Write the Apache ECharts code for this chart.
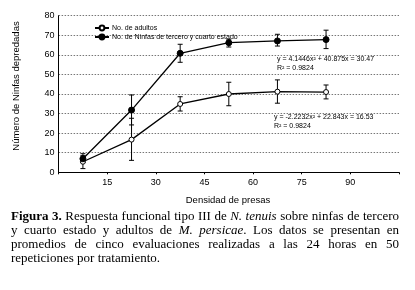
<!DOCTYPE html>
<html><head><meta charset="utf-8">
<script src="https://cdn.jsdelivr.net/npm/echarts@6/dist/echarts.min.js"></script>
<style>html,body{margin:0;padding:0;background:#fff}#c{width:415px;height:290px}</style>
</head><body><div id="c"></div>
<script>
// ---- data ----
const xVals = [7.5, 22.5, 37.5, 52.5, 67.5, 82.5];
const adultos = [5.4, 16.7, 34.9, 40.0, 41.2, 41.0];
const adultosLow = [1.9, 6.1, 31.3, 34.0, 35.3, 37.5];
const adultosHigh = [9.5, 27.6, 38.6, 46.0, 47.2, 44.6];
const ninfas = [6.9, 31.8, 60.8, 66.2, 67.1, 67.8];
const ninfasLow = [5.0, 24.2, 56.2, 64.0, 64.5, 63.2];
const ninfasHigh = [8.5, 39.5, 65.4, 68.0, 70.5, 72.6];
const seriesNames = ['No. de adultos', 'No. de Ninfas de tercero y cuarto estado'];
const eqNinfas = ['y = 4.1446x² + 40.875x = 30.47', 'R² = 0.9824'];
const eqAdultos = ['y = -2.2232x² + 22.843x = 16.53', 'R² = 0.9824'];
const yTitle = 'Número de Ninfas depredadas';
const xTitle = 'Densidad de presas';
const captionLines = [
  [['Figura 3.', 'b'], [' Respuesta funcional tipo III de ', 'n'], ['N. tenuis', 'i'], [' sobre ninfas de tercero', 'n']],
  [['y cuarto estado y adultos de ', 'n'], ['M. persicae', 'i'], ['. Los datos se presentan en', 'n']],
  [['promedios de cinco evaluaciones realizadas a las 24 horas en 50', 'n']],
  [['repeticiones por tratamiento.', 'n']]
];

const chart = echarts.init(document.getElementById('c'), null, {renderer: 'canvas'});
const sans = 'Liberation Sans, Arial, sans-serif';
const serif = 'Liberation Serif, Times New Roman, serif';

function pairs(v) { return xVals.map((x, i) => [x, v[i]]); }
function errData(lo, hi) { return xVals.map((x, i) => [x, lo[i], hi[i]]); }
function errRender(params, api) {
  const x = api.value(0), lo = api.value(1), hi = api.value(2);
  const p1 = api.coord([x, lo]), p2 = api.coord([x, hi]);
  const w = 2.5;
  const st = {stroke: '#000', lineWidth: 1};
  return {type: 'group', children: [
    {type: 'line', shape: {x1: p1[0], y1: p1[1], x2: p2[0], y2: p2[1]}, style: st},
    {type: 'line', shape: {x1: p1[0] - w, y1: p1[1], x2: p1[0] + w, y2: p1[1]}, style: st},
    {type: 'line', shape: {x1: p2[0] - w, y1: p2[1], x2: p2[0] + w, y2: p2[1]}, style: st}
  ]};
}

// caption layout (justified)
const cv = document.createElement('canvas').getContext('2d');
const capSize = 13;
function fontOf(k) {
  return (k === 'b' ? 'bold ' : k === 'i' ? 'italic ' : '') + capSize + 'px ' + serif;
}
const capLeft = 11, capRight = 399, capTop = 217, capGap = 14;
const minSpace = 2.5;
const graphics = [];
captionLines.forEach((line, li) => {
  const words = [];
  line.forEach(([txt, k]) => {
    txt.split(' ').forEach((w, j, arr) => {
      if (w === '') { if (words.length) words[words.length - 1].sp = true; return; }
      words.push({t: w, k: k, sp: j < arr.length - 1});
    });
  });
  const groups = [];
  let cur = null;
  words.forEach(w => {
    if (!cur) { cur = {parts: []}; groups.push(cur); }
    cur.parts.push(w);
    if (w.sp) cur = null;
  });
  let total = 0;
  groups.forEach(g => {
    g.w = 0;
    g.parts.forEach(p => { cv.font = fontOf(p.k); p.w = cv.measureText(p.t).width; g.w += p.w; });
    total += g.w;
  });
  const last = li === captionLines.length - 1;
  cv.font = fontOf('n');
  const target = capRight - capLeft;
  let sx = 1, space;
  if (last) {
    space = cv.measureText(' ').width;
  } else {
    const need = total + minSpace * (groups.length - 1);
    if (need > target) { sx = (target - minSpace * (groups.length - 1)) / total; space = minSpace; }
    else space = (target - total) / (groups.length - 1);
  }
  let x = capLeft;
  const y = capTop + li * capGap;
  groups.forEach(g => {
    g.parts.forEach(p => {
      graphics.push({type: 'text', x: x, y: y, scaleX: sx, silent: true,
        style: {text: p.t, font: fontOf(p.k), fill: '#000', verticalAlign: 'middle'}});
      x += p.w * sx;
    });
    x += space;
  });
});

// equations and axis titles
const eqStyle = {fontSize: 7, fontFamily: sans, fill: '#000'};
graphics.push({type: 'text', left: 277, top: 56, style: Object.assign({text: eqNinfas[0]}, eqStyle)});
graphics.push({type: 'text', left: 277, top: 64.5, style: Object.assign({text: eqNinfas[1]}, eqStyle)});
graphics.push({type: 'text', left: 274, top: 114, style: Object.assign({text: eqAdultos[0]}, eqStyle)});
graphics.push({type: 'text', left: 274, top: 123, style: Object.assign({text: eqAdultos[1]}, eqStyle)});
graphics.push({type: 'text', x: 16, y: 86, rotation: Math.PI / 2,
  style: {text: yTitle, fontSize: 9.5, fontFamily: sans, fill: '#000', align: 'center', verticalAlign: 'middle'}});
graphics.push({type: 'text', x: 228, y: 200,
  style: {text: xTitle, fontSize: 9.5, fontFamily: sans, fill: '#000', align: 'center', verticalAlign: 'middle'}});

chart.setOption({
  animation: false,
  backgroundColor: '#fff',
  grid: {left: 58.6, right: 16, top: 15.7, bottom: 117.7},
  legend: {
    orient: 'vertical', left: 89, top: 19.5, itemWidth: 14, itemHeight: 6, itemGap: 2,
    textStyle: {fontSize: 7, fontFamily: sans, color: '#000', padding: [0, 0, 0, -2]},
    data: seriesNames
  },
  xAxis: {
    type: 'value', min: 0, max: 105, interval: 15,
    axisLine: {lineStyle: {color: '#000', width: 1}},
    axisTick: {show: true, length: 2, lineStyle: {color: '#000'}},
    splitLine: {show: false},
    axisLabel: {color: '#000', fontSize: 9, fontFamily: sans, margin: 6,
      formatter: v => (v === 0 || v === 105) ? '' : String(v)}
  },
  yAxis: {
    type: 'value', min: 0, max: 80, interval: 10,
    axisLine: {show: true, lineStyle: {color: '#000', width: 1}},
    axisTick: {show: false},
    splitLine: {show: true, lineStyle: {color: '#777', type: [1.5, 1.5], width: 1},
      interval: (i, v) => v !== 0 && v !== 80},
    axisLabel: {color: '#000', fontSize: 9, fontFamily: sans, margin: 4}
  },
  series: [
    {name: seriesNames[0], type: 'line', data: pairs(adultos), z: 5,
      symbol: 'circle', symbolSize: 5,
      lineStyle: {color: '#000', width: 1.3},
      itemStyle: {color: '#fff', borderColor: '#000', borderWidth: 1}},
    {name: seriesNames[1], type: 'line', data: pairs(ninfas), z: 5,
      symbol: 'circle', symbolSize: 6,
      lineStyle: {color: '#000', width: 1.3},
      itemStyle: {color: '#000', borderColor: '#000', borderWidth: 1}},
    {type: 'custom', renderItem: errRender, data: errData(adultosLow, adultosHigh), z: 3, silent: true},
    {type: 'custom', renderItem: errRender, data: errData(ninfasLow, ninfasHigh), z: 3, silent: true}
  ],
  graphic: graphics
});
</script></body></html>
